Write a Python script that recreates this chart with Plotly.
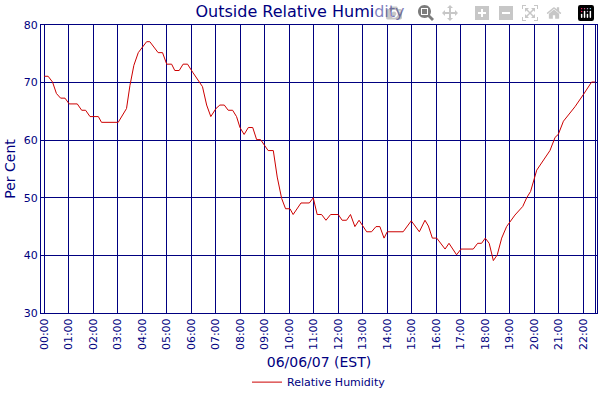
import plotly.graph_objects as go

hours = [0.0,0.16,0.34,0.50,0.67,0.85,1.02,1.35,1.53,1.69,1.87,2.21,2.34,3.02,3.36,3.50,3.66,3.84,4.18,4.31,
         4.65,4.83,5.00,5.20,5.33,5.51,5.67,5.85,6.06,6.46,6.63,6.80,7.01,7.17,7.35,7.51,7.69,7.85,7.99,8.16,
         8.33,8.51,8.67,8.83,9.14,9.35,9.51,9.69,9.85,10.03,10.16,10.48,10.82,10.98,11.14,11.32,11.50,11.69,12.00,12.16,
         12.34,12.50,12.68,12.85,13.16,13.36,13.54,13.70,13.87,14.00,14.65,14.98,15.31,15.54,15.68,15.84,16.02,16.36,16.52,16.83,
         17.01,17.51,17.69,17.85,18.00,18.16,18.33,18.49,18.67,18.87,19.21,19.53,19.69,19.85,20.10,20.30,20.64,20.85,20.98,21.19,
         21.39,21.66,22.00,22.34,22.48]
humidity = [71.1,71.1,70.1,68.1,67.3,67.3,66.3,66.3,65.2,65.2,64.1,64.1,63.1,63.1,65.5,69.5,73.0,75.2,77.1,77.1,
            75.2,75.2,73.2,73.2,72.1,72.1,73.2,73.2,71.8,69.3,66.1,64.1,65.5,66.1,66.1,65.2,65.2,64.1,62.2,61.0,
            62.2,62.2,60.1,60.1,58.2,58.2,53.6,49.9,48.1,48.1,47.1,49.1,49.1,50.0,47.1,47.1,46.1,47.1,47.1,46.1,
            46.1,47.1,45.0,46.1,44.1,44.1,45.0,45.0,43.0,44.1,44.1,46.0,44.1,46.1,45.1,43.0,43.0,41.1,42.1,40.1,
            41.1,41.1,42.1,42.1,43.0,42.1,39.1,40.1,43.0,45.0,47.0,48.5,50.0,51.1,54.8,56.1,58.2,60.5,61.0,63.3,
            64.4,65.8,67.9,70.1,70.1]
tick_hours = [h for h in range(23)] + [22.5]
tick_text = [f"{h:02d}:00" for h in range(23)] + ["22:30"]
y_ticks = [30, 40, 50, 60, 70, 80]

navy = "#000080"
fig = go.Figure(go.Scatter(x=hours, y=humidity, mode="lines", name="Relative Humidity",
                           line=dict(color="#cc0000", width=1)))
fig.update_layout(
    width=600, height=400, paper_bgcolor="white", plot_bgcolor="white",
    font=dict(family="DejaVu Sans", color=navy, size=11),
    margin=dict(l=41, r=3, t=25, b=82),
    title=dict(text="Outside Relative Humidity", x=0.5, xanchor="center", y=0.985, yanchor="top",
               font=dict(size=16, color=navy)),
    showlegend=True,
    legend=dict(orientation="h", x=0.5, xanchor="center", y=-0.24, yanchor="middle",
                font=dict(size=11, color=navy)),
)
fig.update_xaxes(range=[-0.13, 22.56], tickvals=tick_hours, ticktext=tick_text, tickangle=-90,
                 showgrid=True, gridcolor=navy, gridwidth=1, showline=True, linecolor=navy, mirror=True,
                 zeroline=False, tickfont=dict(size=11, color=navy),
                 title=dict(text="06/06/07 (EST)", font=dict(size=14, color=navy), standoff=8))
fig.update_yaxes(range=[30, 80], tickvals=y_ticks, showgrid=True, gridcolor=navy, gridwidth=1,
                 showline=True, linecolor=navy, mirror=True, zeroline=False,
                 tickfont=dict(size=11, color=navy),
                 title=dict(text="Per Cent", font=dict(size=14, color=navy), standoff=4))
fig.write_html("out.html", post_script="document.body.style.margin='0';")
